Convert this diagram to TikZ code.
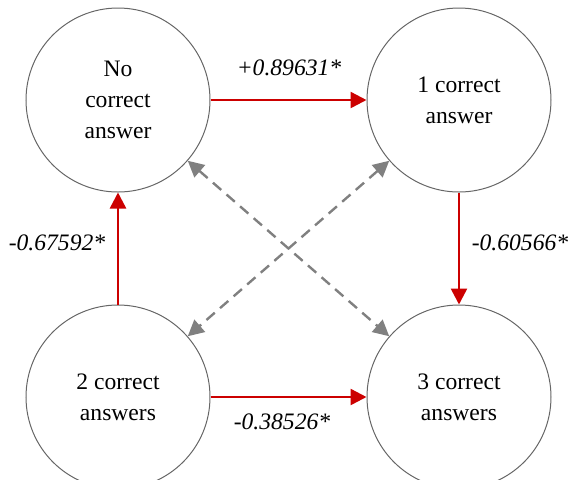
\documentclass[tikz,border=0pt]{standalone}
\usepackage{fontspec}
\setmainfont{Liberation Serif}
\newfontfamily\tnr{Liberation Serif}
\usetikzlibrary{arrows.meta}
\definecolor{myred}{RGB}{204,0,0}
\definecolor{mygrey}{RGB}{128,128,128}
\begin{document}
\begin{tikzpicture}[x=0.5pt,y=-0.5pt,
 state/.style={circle, draw=black!60, line width=0.5pt, minimum size=92pt, inner sep=0pt, align=center, font=\tnr\fontsize{11.8}{15.5}\selectfont},
 redarrow/.style={draw=myred, line width=1.25pt, -{Triangle[length=8pt,width=8pt]}},
 greyarrow/.style={draw=mygrey, line width=1.2pt, dash pattern=on 5.5pt off 3.5pt, {Triangle[length=8pt,width=8pt]}-{Triangle[length=8pt,width=8pt]}},
 lab/.style={font=\tnr\fontsize{11.8}{14}\selectfont\itshape, inner sep=0pt}]
\useasboundingbox (0,0) rectangle (569,479);
\node[state] (n0) at (118,100) {No\\correct\\answer};
\node[state] (n1) at (459,100) {1 correct\\answer};
\node[state] (n2) at (118,397) {2 correct\\answers};
\node[state] (n3) at (459,397) {3 correct\\answers};
\draw[redarrow] (n0) -- (n1);
\draw[redarrow] (n2) -- (n0);
\draw[redarrow] (n1) -- (n3);
\draw[redarrow] (n2) -- (n3);
\draw[greyarrow] (n0) -- (n3);
\draw[greyarrow] (n1) -- (n2);
\node[lab] (l01) at (289,68) {+0.89631*};
\node[lab] (l20) at (57,243) {-0.67592*};
\node[lab] (l13) at (520,243) {-0.60566*};
\node[lab] (l23) at (282,422) {-0.38526*};
\end{tikzpicture}
\end{document}
